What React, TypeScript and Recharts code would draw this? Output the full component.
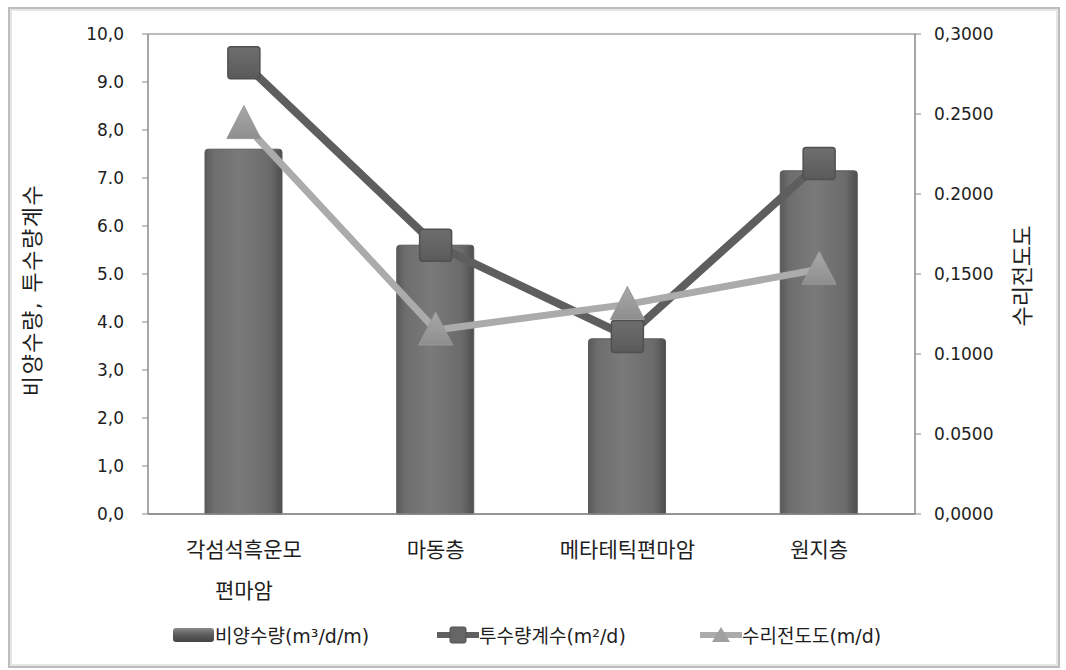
import React from "react";
import {
  ComposedChart,
  Bar,
  Line,
  XAxis,
  YAxis,
  CartesianGrid,
} from "recharts";

const categories = ["각섬석흑운모 편마암", "마동층", "메타테틱편마암", "원지층"];
const specificCapacity = [7.6, 5.6, 3.65, 7.15]; // 비양수량(m³/d/m)
const transmissivity = [9.4, 5.6, 3.7, 7.3]; // 투수량계수(m²/d)
const conductivity = [0.244, 0.115, 0.131, 0.153]; // 수리전도도(m/d)

const leftTicks = [0, 1, 2, 3, 4, 5, 6, 7, 8, 9, 10];
const leftTickLabels = ["0,0", "1,0", "2,0", "3,0", "4.0", "5.0", "6.0", "7.0", "8,0", "9.0", "10,0"];
const rightTicks = [0, 0.05, 0.1, 0.15, 0.2, 0.25, 0.3];
const rightTickLabels = ["0,0000", "0.0500", "0.1000", "0,1500", "0.2000", "0.2500", "0,3000"];

const seriesNames = ["비양수량(m³/d/m)", "투수량계수(m²/d)", "수리전도도(m/d)"];
const leftTitle = "비양수량, 투수량계수";
const rightTitle = "수리전도도";

const data = categories.map((c, i) => ({
  name: c,
  sc: specificCapacity[i],
  tr: transmissivity[i],
  kc: conductivity[i],
}));

const FONT = "'DejaVu Sans', 'Noto Sans CJK KR', sans-serif";
const TEXT = "#1e1e1e";

const SquareDot = (props: any) => {
  const { cx, cy } = props;
  if (cx == null || cy == null) return null;
  return (
    <rect x={cx - 16} y={cy - 16} width={32} height={32} rx={3} fill="url(#sqGrad)" stroke="#505050" strokeWidth={1.5} />
  );
};

const TriDot = (props: any) => {
  const { cx, cy } = props;
  if (cx == null || cy == null) return null;
  return (
    <polygon
      points={`${cx},${cy - 18} ${cx + 17},${cy + 15} ${cx - 17},${cy + 15}`}
      fill="url(#triGrad)"
      stroke="#999"
      strokeWidth={1}
    />
  );
};

const CatTick = (props: any) => {
  const { x, y, payload } = props;
  const lines = String(payload.value).split(" ");
  return (
    <g>
      {lines.map((l: string, i: number) => (
        <text key={i} x={x} y={y + 35 + i * 41} textAnchor="middle" fontSize={21} fill={TEXT} fontFamily={FONT}>
          {l}
        </text>
      ))}
    </g>
  );
};

const LegendBlock = () => {
  const itemStyle: React.CSSProperties = {
    position: "absolute",
    top: 0,
    display: "flex",
    alignItems: "center",
    fontFamily: FONT,
    fontSize: 19,
    color: TEXT,
    whiteSpace: "nowrap",
  };
  return (
    <div style={{ position: "absolute", left: 0, top: 621, width: 1066, height: 30 }}>
      <div style={{ ...itemStyle, left: 172 }}>
        <svg width={43} height={20}>
          <defs>
            <linearGradient id="legBarGrad" x1="0" y1="0" x2="0" y2="1">
              <stop offset="0%" stopColor="#8a8a8a" />
              <stop offset="50%" stopColor="#5a5a5a" />
              <stop offset="100%" stopColor="#444" />
            </linearGradient>
          </defs>
          <rect x={1} y={3} width={41} height={14} rx={3} fill="url(#legBarGrad)" />
        </svg>
        <span>{seriesNames[0]}</span>
      </div>
      <div style={{ ...itemStyle, left: 437 }}>
        <svg width={42} height={20}>
          <line x1={0} y1={10} x2={42} y2={10} stroke="#606060" strokeWidth={6} />
          <rect x={13} y={2} width={16} height={16} rx={2} fill="#666" stroke="#505050" />
        </svg>
        <span>{seriesNames[1]}</span>
      </div>
      <div style={{ ...itemStyle, left: 700 }}>
        <svg width={42} height={20}>
          <line x1={0} y1={10} x2={42} y2={10} stroke="#ababab" strokeWidth={6} />
          <polygon points="21,2 30,17 12,17" fill="#a0a0a0" />
        </svg>
        <span>{seriesNames[2]}</span>
      </div>
    </div>
  );
};

export default function App() {
  return (
    <div style={{ position: "absolute", left: 0, top: 0, width: 1066, height: 670, background: "#fff" }}>
      <div
        style={{
          position: "absolute",
          left: 8,
          top: 7,
          width: 1048,
          height: 657,
          border: "2px solid #bdbdbd",
          boxShadow: "inset 0 0 0 2px #e6e6e6",
        }}
      />
      <div style={{ position: "absolute", left: 0, top: 0 }}>
        <ComposedChart
          width={1066}
          height={670}
          data={data}
          margin={{ top: 34, right: 0, bottom: 96, left: 0 }}
          barSize={77}
        >
          <defs>
            <linearGradient id="barGrad" x1="0" y1="0" x2="1" y2="0">
              <stop offset="0%" stopColor="#5a5a5a" />
              <stop offset="12%" stopColor="#6e6e6e" />
              <stop offset="45%" stopColor="#7a7a7a" />
              <stop offset="85%" stopColor="#6a6a6a" />
              <stop offset="100%" stopColor="#4e4e4e" />
            </linearGradient>
            <linearGradient id="sqGrad" x1="0" y1="0" x2="0" y2="1">
              <stop offset="0%" stopColor="#6e6e6e" />
              <stop offset="100%" stopColor="#5a5a5a" />
            </linearGradient>
            <linearGradient id="triGrad" x1="0" y1="0" x2="0" y2="1">
              <stop offset="0%" stopColor="#a8a8a8" />
              <stop offset="100%" stopColor="#8e8e8e" />
            </linearGradient>
          </defs>
          <CartesianGrid vertical={false} stroke="#7a7a7a" strokeWidth={1.2} />
          <XAxis
            dataKey="name"
            height={60}
            tick={<CatTick />}
            tickLine={false}
            axisLine={{ stroke: "#888", strokeWidth: 1.5 }}
            interval={0}
          />
          <YAxis
            yAxisId="left"
            width={148}
            domain={[0, 10]}
            ticks={leftTicks}
            interval={0}
            tickSize={6}
            tickMargin={18}
            tickLine={{ stroke: "#888" }}
            axisLine={{ stroke: "#888", strokeWidth: 1.5 }}
            tickFormatter={(v: number) => leftTickLabels[leftTicks.indexOf(v)] ?? String(v)}
            tick={{ fontSize: 17, fill: TEXT, fontFamily: FONT }}
            label={{
              content: () => (
                <text
                  x={40}
                  y={290}
                  transform="rotate(-90, 40, 290)"
                  textAnchor="middle"
                  fontSize={22}
                  letterSpacing={1.5}
                  fill={TEXT}
                  fontFamily={FONT}
                >
                  {leftTitle}
                </text>
              ),
            }}
          />
          <YAxis
            yAxisId="right"
            orientation="right"
            width={151}
            domain={[0, 0.3]}
            ticks={rightTicks}
            interval={0}
            tickSize={6}
            tickMargin={13}
            tickLine={{ stroke: "#888" }}
            axisLine={{ stroke: "#888", strokeWidth: 1.5 }}
            tickFormatter={(v: number) => {
              const idx = rightTicks.findIndex((t) => Math.abs(t - v) < 1e-9);
              return idx >= 0 ? rightTickLabels[idx] : String(v);
            }}
            tick={{ fontSize: 17, fill: TEXT, fontFamily: FONT }}
            label={{
              content: () => (
                <text
                  x={1030}
                  y={276}
                  transform="rotate(-90, 1030, 276)"
                  textAnchor="middle"
                  fontSize={22}
                  fill={TEXT}
                  fontFamily={FONT}
                >
                  {rightTitle}
                </text>
              ),
            }}
          />
          <Bar
            yAxisId="left"
            dataKey="sc"
            name={seriesNames[0]}
            fill="url(#barGrad)"
            stroke="#5a5a5a"
            radius={[3, 3, 0, 0]}
            isAnimationActive={false}
          />
          <Line
            yAxisId="left"
            dataKey="tr"
            name={seriesNames[1]}
            stroke="#5e5e5e"
            strokeWidth={8}
            dot={<SquareDot />}
            activeDot={false}
            isAnimationActive={false}
          />
          <Line
            yAxisId="right"
            dataKey="kc"
            name={seriesNames[2]}
            stroke="#ababab"
            strokeWidth={7}
            dot={<TriDot />}
            activeDot={false}
            isAnimationActive={false}
          />
        </ComposedChart>
      </div>
      <LegendBlock />
    </div>
  );
}
